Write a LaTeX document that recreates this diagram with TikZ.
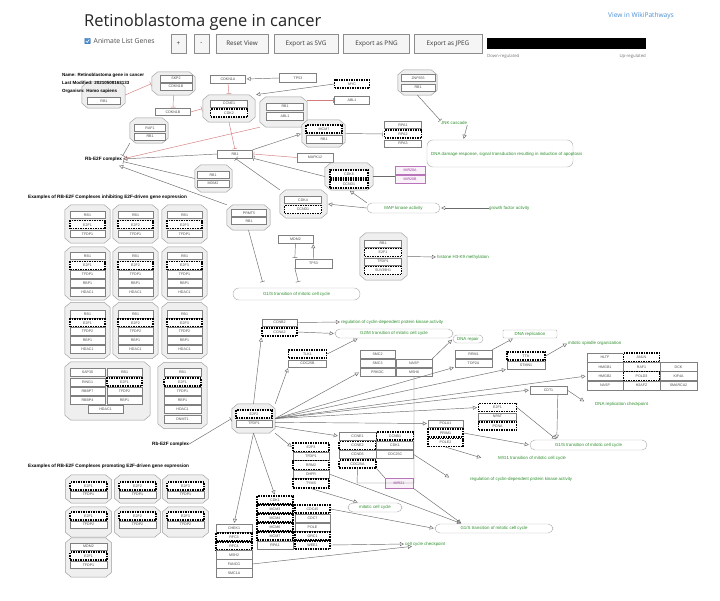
\documentclass[tikz,border=0pt]{standalone}
\usepackage{fontspec}
\setmainfont{Liberation Sans}
\newfontfamily\uif{Open Sans}
\usetikzlibrary{arrows.meta,calc}
\definecolor{pwgreen}{HTML}{2F8F2F}
\definecolor{pwline}{HTML}{6A6A6A}
\definecolor{pwred}{HTML}{D47A7A}
\definecolor{pwblue}{HTML}{4A8FD4}
\definecolor{cfill}{HTML}{EFEFEF}
\newcommand\gf{\fontsize{3.6}{4}\selectfont}
\newcommand\lf{\fontsize{4.4}{5}\selectfont}
\newcommand\blf{\fontsize{4.7}{5.2}\selectfont\bfseries}
\newcommand\octo[1]{\filldraw[draw=black!38, fill=cfill, line width=0.45pt] ($(#1.north west)+(6,0)$) -- ($(#1.north east)+(-6,0)$) -- ($(#1.north east)+(0,5)$) -- ($(#1.south east)+(0,-5)$) -- ($(#1.south east)+(-6,0)$) -- ($(#1.south west)+(6,0)$) -- ($(#1.south west)+(0,-5)$) -- ($(#1.north west)+(0,5)$) -- cycle;}
\tikzset{
 gene/.style={draw=black!50, line width=0.35pt, fill=white, minimum width=35pt, minimum height=8pt, inner sep=0pt, font=\gf, text=black!70},
 dgene/.style={gene, draw=black, line width=1.1pt, dash pattern=on 1.5pt off 1pt},
 cplx/.style={rectangle, draw=none, inner sep=0pt},
 mirbox/.style={gene, draw=violet!55, fill=violet!5, text=violet!80},
 proc/.style={draw=black!30, line width=0.45pt, fill=white, rounded corners=5pt, inner sep=0pt, font=\lf, text=pwgreen},
 glbl/.style={font=\lf, text=pwgreen, anchor=west, inner sep=0pt},
 blbl/.style={font=\blf, text=black, anchor=west, inner sep=0pt},
 con/.style={draw=pwline, line width=0.45pt},
 act/.style={con, -{Triangle[open,length=4pt,width=4pt]}, shorten >=1pt},
 inh/.style={con, -{Bar[width=5pt]}, shorten >=1pt},
 ract/.style={act, draw=pwred},
 rinh/.style={inh, draw=pwred},
 btn/.style={draw=black!45, line width=0.6pt, fill=black!4, font=\uif\fontsize{6.3}{7}\selectfont, text=black!80, minimum height=19pt, inner sep=0pt}
}
\begin{document}
\begin{tikzpicture}[x=1pt,y=-1pt]
\useasboundingbox (0,0) rectangle (720,600);
\fill[white] (0,0) rectangle (720,600);
% ---------------- header
\node[anchor=base west, inner sep=0, font=\uif\fontsize{16.5}{18}\selectfont, text=black!85] (title) at (84,26) {Retinoblastoma gene in cancer};
\node[draw=pwblue!80!black, fill=pwblue, minimum size=5.5pt, inner sep=0, rounded corners=0.5pt] (chk) at (87.5,41) {};
\draw[white, line width=0.6pt] (85.8,41) -- (87.2,42.4) -- (89.3,39.5);
\node[anchor=west, inner sep=0, font=\uif\fontsize{6.8}{8}\selectfont, text=black!70] (anim) at (93.5,41.5) {Animate List Genes};
\node[btn, minimum width=15pt] (bplus) at (178.5,43.5) {+};
\node[btn, minimum width=15pt] (bminus) at (201.5,43.5) {-};
\node[btn, minimum width=52pt] (breset) at (242,43.5) {Reset View};
\node[btn, minimum width=64pt] (bsvg) at (306,43.5) {Export as SVG};
\node[btn, minimum width=66pt] (bpng) at (376.5,43.5) {Export as PNG};
\node[btn, minimum width=68pt] (bjpeg) at (448,43.5) {Export as JPEG};
\node[fill=black, minimum width=159pt, minimum height=11pt, inner sep=0] (bar) at (566.5,43.5) {};
\node[anchor=west, font=\uif\fontsize{4.3}{5}\selectfont, text=black!55, inner sep=0] (down) at (487,56) {Down-regulated};
\node[anchor=east, font=\uif\fontsize{4.3}{5}\selectfont, text=black!55, inner sep=0] (up) at (646,56) {Up-regulated};
\node[anchor=west, font=\uif\fontsize{6.6}{8}\selectfont, text=pwblue, inner sep=0] (wp) at (608,16) {View in WikiPathways};
% ---------------- info
\node[cplx, minimum width=43pt, minimum height=26pt] (crbtop) at (103.5,95) {};\octo{crbtop}
\node[gene, minimum width=33pt, minimum height=7pt] (rbtop) at (104,101) {RB1};
\node[blbl, font=\fontsize{4.5}{5}\selectfont\bfseries] (nm) at (62,75) {Name: Retinoblastoma gene in cancer};
\node[blbl, font=\fontsize{4.5}{5}\selectfont\bfseries] (lm) at (62,83) {Last Modified: 20210508163133};
\node[blbl, font=\fontsize{4.5}{5}\selectfont\bfseries] (org) at (62,91) {Organism: Homo sapiens};
% ---------------- upper pathway
\node[cplx, minimum width=43pt, minimum height=23pt] (cskp) at (173.5,83.5) {};\octo{cskp}
\node[gene, minimum width=32pt, minimum height=7pt] (skp2) at (176,78.5) {SKP2};
\node[gene, minimum width=32pt, minimum height=7pt] (cdkn1ba) at (176,86.5) {CDKN1B};
\node[gene, minimum height=7pt] (cdkn1b) at (173,112) {CDKN1B};
\node[gene] (cdkn1a) at (228,79) {CDKN1A};
\node[gene, minimum width=37pt, minimum height=9pt] (tp53a) at (298,78) {TP53};
\node[dgene] (myc) at (352,84) {MYC};
\node[gene] (abl1) at (352,100) {ABL1};
\node[cplx, minimum width=52pt, minimum height=27pt] (cccne) at (229,108.5) {};\octo{cccne}
\node[gene, minimum width=37pt, minimum height=7pt] (ccne1a) at (229,103.5) {CCNE1};
\node[dgene, minimum width=37pt] (cdk2a) at (229,113) {CDK2};
\node[cplx, minimum width=47pt, minimum height=30pt] (crbabl) at (283.5,112) {};\octo{crbabl}
\node[gene, minimum width=37pt, minimum height=7pt] (rb1abl) at (285,106.5) {RB1};
\node[gene, minimum width=37pt] (abl1c) at (285,116) {ABL1};
\node[cplx, minimum width=43pt, minimum height=27pt] (cmcm7) at (323.5,133.5) {};\octo{cmcm7}
\node[dgene, minimum width=36pt] (mcm7a) at (324,129) {MCM7};
\node[gene, minimum width=36pt] (rb1mcm) at (324,139) {RB1};
\node[gene, minimum width=37pt, minimum height=7pt] (rpa1a) at (403,125) {RPA1};
\node[dgene, minimum width=37pt] (rpa2a) at (403,134) {RPA2};
\node[gene, minimum width=37pt, minimum height=7pt] (rpa3a) at (403,143.5) {RPA3};
\node[gene, minimum width=36pt, minimum height=9pt] (mapk) at (315,157.5) {MAPK12};
\node[cplx, minimum width=48pt, minimum height=27pt] (ccdk6) at (349,176.5) {};\octo{ccdk6}
\node[dgene, minimum width=38pt] (cdk6) at (349,174) {CDK6};
\node[dgene, minimum width=38pt] (ccnd1a) at (349,184) {CCND1};
\node[mirbox, minimum width=30pt] (mira) at (410,170) {MIR20A};
\node[mirbox, minimum width=30pt] (mirb) at (410,179) {MIR20B};
\node[cplx, minimum width=39pt, minimum height=25pt] (cznf) at (417.5,82.5) {};\octo{cznf}
\node[gene, minimum width=34pt, minimum height=7pt] (znf) at (418,78) {ZNF655};
\node[gene, minimum width=34pt, minimum height=7pt] (rb1znf) at (418,87.5) {RB1};
\node[glbl] (jnk) at (441,123) {JNK cascade};
\node[proc, minimum width=146pt, minimum height=27pt, rounded corners=6pt] (dnadmg) at (500,153.5) {};
\node[glbl] (dnadmgt) at (431,154) {DNA damage response, signal transduction resulting in induction of apoptosis};
\node[gene] (rb1) at (235,154) {RB1};
\node[cplx, minimum width=38pt, minimum height=25pt] (craf) at (149,130.5) {};\octo{craf}
\node[gene, minimum width=31pt, minimum height=7pt] (raf1) at (150,128) {RAF1};
\node[gene, minimum width=31pt, minimum height=7pt] (rb1raf) at (150,136.5) {RB1};
\node[blbl] (rbe2f) at (85,159) {Rb-E2F complex};
\node[cplx, minimum width=37pt, minimum height=27pt] (cmdm) at (213.5,178.5) {};\octo{cmdm}
\node[gene, minimum width=32pt, minimum height=7pt] (rb1mdm) at (213,175) {RB1};
\node[gene, minimum width=32pt, minimum height=7pt] (mdm2a) at (213,183.5) {MDM2};
\node[cplx, minimum width=47pt, minimum height=28pt] (ccdk4) at (303.5,204) {};\octo{ccdk4}
\node[gene, minimum width=37pt, minimum height=7pt] (cdk4) at (303,200) {CDK4};
\node[dgene, minimum width=37pt] (ccnd1b) at (303,209.5) {CCND1};
\node[proc, minimum width=73pt, minimum height=10pt] (mapkin) at (403.5,208) {MAP kinase activity};
\node[glbl] (growth) at (489,208) {growth factor activity};
\node[cplx, minimum width=43pt, minimum height=25pt] (cprmt) at (248.5,217.5) {};\octo{cprmt}
\node[gene, minimum width=35pt, minimum height=7pt] (prmt5) at (249,213) {PRMT5};
\node[gene, minimum width=35pt, minimum height=7pt] (rb1prmt) at (249,221) {RB1};
\node[gene, minimum height=8pt] (mdm2b) at (295.5,239) {MDM2};
\node[gene, minimum width=37pt, minimum height=9pt] (tp53b) at (313.5,263.5) {TP53};
\node[proc, minimum width=127pt, minimum height=12pt, rounded corners=6pt] (g1stop) at (296.5,294) {G1/S transition of mitotic cell cycle};
\node[cplx, minimum width=47pt, minimum height=47pt] (csuv) at (383.5,256.5) {};\octo{csuv}
\node[gene, minimum width=37pt, minimum height=7pt] (rb1suv) at (383,243.5) {RB1};
\node[dgene, minimum width=37pt] (e2f1suv) at (383,252.5) {E2F1};
\node[gene, minimum width=37pt, minimum height=7pt] (tfdp1suv) at (383,261.5) {TFDP1};
\node[dgene, minimum width=37pt] (suv) at (383,270.5) {SUV39H1};
\node[glbl] (histone) at (437,257) {histone H3-K9 methylation};
% upper connectors
\draw[rinh] (crbtop.east) -- (cskp.west);
\draw[rinh] (cskp.south) -- (cdkn1b.north);
\draw[rinh] (cdkn1b.east) -- (cccne.west);
\draw[rinh] (cdkn1a.south) -- (cccne.north);
\draw[act] (tp53a.west) -- (cdkn1a.east);
\draw[act] (myc.west) -- (cccne.north east);
\draw[rinh] (crbabl.east |- abl1.west) -- (abl1.west);
\draw[rinh] (cccne.south) -- (rb1.north);
\draw[act] (rb1.north east) -- (cmcm7.west);
\draw[inh] (cmcm7.east) -- (rpa2a.west);
\draw[rinh] (mapk.west) -- (rb1.east);
\draw[inh] (ccdk6.west) -- (rb1.south east);
\draw[inh] (ccdk4.north west) -- (rb1.south);
\draw[con] (ccdk6.east) -- (mira.west |- ccdk6.east);
\draw[inh] (cznf.south) -- (jnk.north west);
\draw[act] (jnk.south east) -- ($(dnadmg.north west)!0.5!(dnadmg.north)$);
\draw[act] (growth.west) -- (mapkin.east);
\draw[act] (mapkin.west) -- (ccdk4.east);
\draw[act] (mapkin.north west) -- (ccdk6.south);
\draw[ract] (crbabl.south west) -- (rbe2f.east);
\draw[act] (rb1.west) -- (rbe2f.east);
\draw[inh] (craf.south west) -- (rbe2f.north east);
\draw[inh] (cmdm.west) -- (rbe2f.south east);
\draw[act] (cprmt.north west) -- ($(rbe2f.south east)+(-4,4)$);
\draw[inh] (cprmt.south) -- ($(g1stop.north west)+(30,-5)$);
\draw[inh] (mdm2b.south) -- (tp53b.north west);
\draw[act] (tp53b.north) -- (mdm2b.south east);
\draw[inh] (tp53b.south west) -- ($(g1stop.north)+(2,-5)$);
\draw[act] (csuv.east) -- (histone.west);
% ---------------- inhibiting examples
\node[blbl] (exinh) at (28,197) {Examples of RB-E2F Complexes inhibiting E2F-driven gene expression};
\foreach \x/\e [count=\c] in {87.5/1,135.5/2,184.5/3} {
 \node[cplx, minimum width=45pt, minimum height=38pt] (ia\c) at (\x,224) {};\octo{ia\c}
 \node[gene, minimum height=7pt] (ia\c-1) at (\x,215) {RB1};
 \node[dgene] (ia\c-2) at (\x,224.8) {E2F\e};
 \node[gene, minimum height=7pt] (ia\c-3) at (\x,233.8) {TFDP1};
 \node[cplx, minimum width=45pt, minimum height=53pt] (ib\c) at (\x,273.5) {};\octo{ib\c}
 \node[gene, minimum height=7pt] (ib\c-1) at (\x,256) {RB1};
 \node[dgene] (ib\c-2) at (\x,265.5) {E2F\e};
 \node[gene, minimum height=8pt] (ib\c-3) at (\x,274.5) {TFDP1};
 \node[gene, minimum height=8pt] (ib\c-4) at (\x,283) {RBP1};
 \node[gene, minimum height=8pt] (ib\c-5) at (\x,292) {HDAC1};
 \node[cplx, minimum width=45pt, minimum height=56pt] (ic\c) at (\x,330.5) {};\octo{ic\c}
 \node[gene, minimum height=8pt] (ic\c-1) at (\x,314) {RB1};
 \node[dgene] (ic\c-2) at (\x,323) {E2F\e};
 \node[gene, minimum height=8pt] (ic\c-3) at (\x,331.5) {TFDP2};
 \node[gene, minimum height=8pt] (ic\c-4) at (\x,340) {RBP1};
 \node[gene, minimum height=8pt] (ic\c-5) at (\x,349.5) {HDAC1};
}
\node[cplx, minimum width=85pt, minimum height=58pt] (idbig) at (107.5,391) {};\octo{idbig}
\node[gene] (sap30) at (87.5,372) {SAP30};
\node[gene] (ring1) at (87.5,382) {RING1};
\node[gene] (rbbp7) at (87.5,391) {RBBP7};
\node[gene] (rbbp4) at (87.5,400.5) {RBBP4};
\node[gene] (rb1d) at (124.5,372) {RB1};
\node[dgene] (e2f1d) at (124.5,382) {E2F1};
\node[gene] (tfdp2d) at (124.5,391) {TFDP2};
\node[gene] (rbp1d) at (124.5,400.5) {RBP1};
\node[gene] (hdac1d) at (105.5,409.5) {HDAC1};
\node[cplx, minimum width=49pt, minimum height=66pt] (id3) at (182.5,395.5) {};\octo{id3}
\node[gene, minimum width=37pt] (id3-1) at (182.5,372) {RB1};
\node[dgene, minimum width=37pt] (id3-2) at (182.5,382) {E2F1};
\node[gene, minimum width=37pt] (id3-3) at (182.5,391) {TFDP1};
\node[gene, minimum width=37pt] (id3-4) at (182.5,400.5) {RBP1};
\node[gene, minimum width=37pt] (id3-5) at (182.5,409.5) {HDAC1};
\node[gene, minimum width=37pt] (id3-6) at (182.5,419) {DNMT1};
% ---------------- promoting examples
\node[blbl] (exprom) at (28,466) {Examples of RB-E2F Complexes promoting E2F-driven gene expression};
\foreach \x/\e [count=\c] in {88.5/1,137.5/2,185.5/3} {
 \node[cplx, minimum width=46pt, minimum height=28pt] (pa\c) at (\x,489) {};\octo{pa\c}
 \node[dgene, minimum width=37pt] (pa\c-1) at (\x,486) {E2F\e};
 \node[gene, minimum width=37pt, minimum height=7pt] (pa\c-2) at (\x,494.5) {TFDP1};
 \node[cplx, minimum width=46pt, minimum height=30pt] (pb\c) at (\x,522) {};\octo{pb\c}
 \node[dgene, minimum width=37pt] (pb\c-1) at (\x,516) {E2F\e};
 \node[gene, minimum width=37pt, minimum height=7pt] (pb\c-2) at (\x,524.5) {TFDP2};
}
\node[cplx, minimum width=46pt, minimum height=39pt] (pc1) at (88.5,557.5) {};\octo{pc1}
\node[gene, minimum width=37pt, minimum height=7pt] (pc1-1) at (88.5,546.5) {MDM2};
\node[dgene, minimum width=37pt] (pc1-2) at (88.5,556) {E2F1};
\node[gene, minimum width=37pt, minimum height=7pt] (pc1-3) at (88.5,565) {TFDP1};
% ---------------- lower pathway
\node[cplx, minimum width=43pt, minimum height=29pt] (hub) at (253.5,418.5) {};\octo{hub}
\node[dgene, minimum width=36pt] (e2f2h) at (254,414) {E2F2};
\node[gene, minimum width=36pt, minimum height=7pt] (tfdp1h) at (254,423.5) {TFDP1};
\node[blbl] (rbe2fb) at (152,444) {Rb-E2F complex};
\node[gene, minimum height=7pt] (ccnb2) at (279.5,322.5) {CCNB2};
\node[dgene] (ccna2) at (279.5,332) {CCNA2};
\node[glbl] (reg1) at (341,322) {regulation of cyclin-dependent protein kinase activity};
\node[proc, minimum width=118pt, minimum height=9pt] (g2m) at (394,333.5) {G2/M transition of mitotic cell cycle};
\node[dgene, minimum width=38pt] (tlk) at (307.5,354) {TLK1};
\node[gene, minimum width=38pt, minimum height=7pt] (cdc25b) at (307.5,363.5) {CDC25B};
\node[gene] (smc2) at (377.5,354) {SMC2};
\node[gene] (smc3) at (377.5,363) {SMC3};
\node[gene] (prkdc) at (377.5,372) {PRKDC};
\node[gene, minimum width=36pt] (nasp) at (414,363) {NASP};
\node[gene, minimum width=36pt] (msh6) at (414,372) {MSH6};
\node[proc, minimum width=30pt, minimum height=8pt, rounded corners=4pt] (dnarepair) at (468,339) {DNA repair};
\node[proc, minimum width=54pt, minimum height=8pt, rounded corners=1pt] (dnarep) at (530,334) {DNA replication};
\node[gene, minimum width=37pt] (rrm1) at (473.5,354) {RRM1};
\node[gene, minimum width=37pt] (top2a) at (473.5,363) {TOP2A};
\node[dgene, minimum width=38pt] (ttk) at (526,356) {TTK};
\node[gene, minimum width=38pt] (stmn1) at (526,365) {STMN1};
\node[glbl] (spindle) at (568,343) {mitotic spindle organization};
\node[gene, minimum width=36.5pt, minimum height=9pt] (hltf) at (605,357.5) {HLTF};
\node[dgene, minimum width=36.5pt, minimum height=9pt] (anln) at (641.5,357.5) {ANLN};
\node[gene, minimum width=36.5pt, minimum height=9pt] (hmgb1) at (605,367) {HMGB1};
\node[gene, minimum width=36.5pt, minimum height=9pt] (raf1b) at (641.5,367) {RAF1};
\node[gene, minimum width=36.5pt, minimum height=9pt] (dck) at (678.5,367) {DCK};
\node[gene, minimum width=36.5pt, minimum height=9pt] (hmgb2) at (605,376) {HMGB2};
\node[dgene, minimum width=36.5pt, minimum height=9pt] (pold3) at (641.5,376) {POLD3};
\node[gene, minimum width=36.5pt, minimum height=9pt] (kif4a) at (678.5,376) {KIF4A};
\node[gene, minimum width=36.5pt, minimum height=9pt] (nasp2) at (605,385.5) {NASP};
\node[gene, minimum width=36.5pt, minimum height=9pt] (h2afz) at (641.5,385.5) {H2AFZ};
\node[gene, minimum width=36.5pt, minimum height=9pt] (smarca2) at (678.5,385.5) {SMARCA2};
\node[gene, minimum width=37pt] (cdt1) at (548.5,390) {CDT1};
\node[glbl] (drcheck) at (595,404) {DNA replication checkpoint};
\node[dgene, minimum width=38pt, minimum height=8.5pt] (e2f1g) at (497.5,407.5) {E2F1};
\node[gene, minimum width=38pt, minimum height=7pt] (npat) at (497.5,416.5) {NPAT};
\node[dgene, minimum width=38pt] (pcna) at (497.5,426) {PCNA};
\node[gene, minimum height=7pt] (pola1) at (445.5,423.5) {POLA1};
\node[dgene] (prim1) at (445.5,433) {PRIM1};
\node[dgene] (pole2) at (445.5,442.5) {POLE2};
\node[proc, minimum width=117pt, minimum height=10pt] (g1smid) at (588.5,445) {G1/S transition of mitotic cell cycle};
\node[glbl] (mg1) at (498,458) {M/G1 transition of mitotic cell cycle};
\node[glbl] (reg2) at (470,479) {regulation of cyclin-dependent protein kinase activity};
\node[gene, minimum width=37pt] (ccne1) at (357.5,436) {CCNE1};
\node[dgene, minimum width=37pt] (ccnb1) at (395,436) {CCNB1};
\node[dgene, minimum width=37pt] (ccne2) at (357.5,445.5) {CCNE2};
\node[gene, minimum width=37pt] (cdk1c) at (395,445.5) {CDK1};
\node[gene, minimum width=37pt] (ccnd3) at (357.5,454.5) {CCND3};
\node[gene, minimum width=37pt] (cdc25c) at (395,454.5) {CDC25C};
\node[dgene, minimum width=37pt] (cdc25a) at (357.5,464) {CDC25A};
\node[mirbox, minimum width=28pt, minimum height=10pt] (mirc) at (399,483) {MIR21};
\node[dgene, minimum width=36pt, minimum height=9pt] (e2f3g) at (311,447.5) {E2F3};
\node[gene, minimum width=36pt] (tfdp1g) at (311,456) {TFDP1};
\node[dgene, minimum width=36pt, minimum height=9pt] (rrm2) at (311,465) {RRM2};
\node[gene, minimum width=36pt] (dhfr) at (311,474) {DHFR};
\node[dgene, minimum width=36pt, minimum height=9pt] (tyms) at (311,483.5) {TYMS};
\node[proc, minimum width=54pt, minimum height=9pt] (mitotic) at (375,507.5) {mitotic cell cycle};
\node[proc, minimum width=118pt, minimum height=9pt] (g1sbot) at (494,528.5) {G1/S transition of mitotic cell cycle};
\node[dgene, minimum width=36pt] (cdk1m) at (275,500) {CDK1};
\node[dgene, minimum width=36pt] (mcm3) at (275,509) {MCM3};
\node[dgene, minimum width=36pt] (mcm4) at (275,518) {MCM4};
\node[dgene, minimum width=36pt] (mcm6) at (275,527) {MCM6};
\node[dgene, minimum width=36pt] (mcm7b) at (275,536) {MCM7};
\node[gene, minimum width=36pt] (rpa1b) at (275,545) {RPA1};
\node[dgene, minimum width=35pt] (cdc45) at (312.5,509) {CDC45};
\node[gene, minimum width=35pt] (cdc7) at (312.5,518) {CDC7};
\node[gene, minimum width=35pt] (pole) at (312.5,527) {POLE};
\node[dgene, minimum width=35pt] (orc1) at (312.5,536) {ORC1};
\node[dgene, minimum width=35pt] (wee1) at (312.5,545) {WEE1};
\node[glbl] (ccheck) at (405,544) {cell cycle checkpoint};
\node[gene, minimum width=36pt] (chek1) at (234,528) {CHEK1};
\node[dgene, minimum width=36pt] (rfc3) at (234,537) {RFC3};
\node[dgene, minimum width=36pt] (rfc4) at (234,546) {RFC4};
\node[gene, minimum width=36pt, minimum height=9pt] (msh2) at (234,555) {MSH2};
\node[gene, minimum width=36pt, minimum height=9pt] (fancg) at (234,564) {FANCG};
\node[gene, minimum width=36pt, minimum height=9pt] (smc1a) at (234,573) {SMC1A};
\coordinate (frame) at (357,483);
% lower connectors
\begin{scope}[shorten >=3pt]
\draw[act] (hub.north) -- (ccna2.south west);
\draw[act] (hub.north east) -- (cdc25b.south west);
\draw[act] (hub.east) -- (prkdc.west);
\draw[act] (hub.east) -- (top2a.south west);
\draw[act] (hub.east) -- (stmn1.south west);
\draw[act] (hub.east) -- (hmgb2.west);
\draw[act] (hub.east) -- (cdt1.west);
\draw[act] (hub.east) -- (e2f1g.west);
\draw[act] (hub.-10) -- (pola1.west);
\draw[act] (hub.-20) -- (ccne1.west);
\draw[act] (hub.south east) -- (e2f3g.west);
\draw[act] (hub.south) -- (cdk1m.north);
\draw[act] (hub.south) -- (chek1.north);
\end{scope}
\draw[inh] (rbe2fb.east) -- (hub.west);
\draw[act] (ccnb2.east) -- (reg1.west);
\draw[act] (ccna2.east) -- (g2m.west);
\draw[act] (tlk.east) -- ($(g2m.south west)!0.2!(g2m.south east)$);
\draw[act] (nasp.north east) -- (dnarepair.west);
\draw[act] (rrm1.north east) -- ($(dnarep.south west)!0.2!(dnarep.south east)$);
\draw[act] (ttk.east) -- (spindle.west);
\draw[act] (cdt1.east) -- ($(drcheck.west)+(-10,-2)$);
\draw[act] ($(cdt1.south west)!0.75!(cdt1.south east)$) -- ($(g1smid.north west)!0.23!(g1smid.north east)$);
\draw[act] (e2f1g.east) -- ($(g1smid.north west)!0.23!(g1smid.north east)$);
\draw[act] (prim1.east) -- (g1smid.west);
\draw[act] (pole2.south) -- ($(mg1.west)+(-16,0)$);
\draw[act] (cdc25c.east) -- ($(reg2.west)+(-20,-1)$);
\draw[con] (msh6.south) |- (frame) -- (cdc25a.south);
\draw[con] (cdc25a.south east) -- (mirc.north west);
\draw[act] (mirc.south east) -- ($(g1sbot.north west)!0.23!(g1sbot.north east)$);
\draw[act] (tyms.south) -- ($(mitotic.north west)!0.2!(mitotic.north east)$);
\draw[act] (dhfr.east) -- ($(g1sbot.north west)!0.23!(g1sbot.north east)$);
\draw[act] (cdc45.east) -- (g1sbot.west);
\draw[act] (wee1.east) -- (ccheck.west);
\draw[act] (fancg.east) -- ($(ccheck.south west)+(8,0)$);
\end{tikzpicture}
\end{document}
